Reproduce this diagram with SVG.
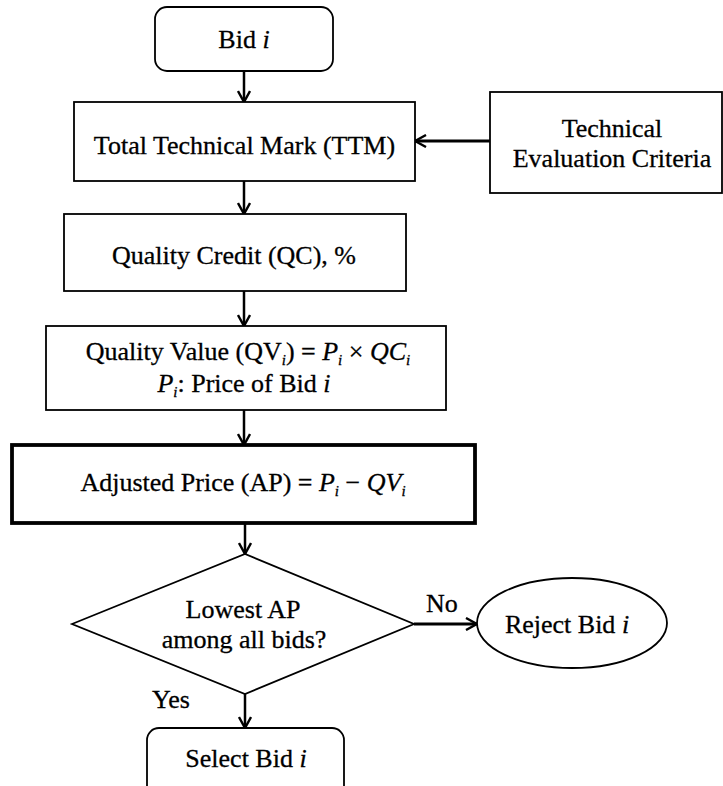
<svg xmlns="http://www.w3.org/2000/svg" width="723" height="786" viewBox="0 0 723 786">
<defs>
<style>
text{font-family:"Liberation Serif","Times New Roman",serif;font-size:26px;fill:#000;stroke:#000;stroke-width:0.3}
.c{text-anchor:middle}
.it{font-style:italic}
.sub{font-style:italic;font-size:15px}
.box{fill:#fff;stroke:#000;stroke-width:1.8}
.thick{fill:#fff;stroke:#000;stroke-width:3.8}
.con{fill:none;stroke:#000;stroke-width:2.5}
</style>
<marker id="arr" viewBox="0 0 14 14" refX="13" refY="7" markerWidth="14" markerHeight="14" markerUnits="userSpaceOnUse" orient="auto">
<path d="M2,1 L13,7 L2,13" fill="none" stroke="#000" stroke-width="2.4"/>
</marker>
</defs>
<rect width="723" height="786" fill="#fff"/>
<g id="connectors">
<line class="con" x1="244" y1="71" x2="244" y2="102" marker-end="url(#arr)"/>
<line class="con" x1="490" y1="141" x2="415" y2="141" marker-end="url(#arr)" style="stroke-width:3"/>
<line class="con" x1="244" y1="181" x2="244" y2="214" marker-end="url(#arr)"/>
<line class="con" x1="244" y1="291" x2="244" y2="326" marker-end="url(#arr)"/>
<line class="con" x1="244" y1="410" x2="244" y2="445" marker-end="url(#arr)"/>
<line class="con" x1="245" y1="523" x2="245" y2="554" marker-end="url(#arr)"/>
<line class="con" x1="414" y1="624" x2="477" y2="624" marker-end="url(#arr)" style="stroke-width:3"/>
<line class="con" x1="245" y1="694" x2="245" y2="728" marker-end="url(#arr)"/>
</g>
<g id="bid">
<rect class="box" x="155" y="7" width="178" height="64" rx="12"/>
<text class="c" x="244" y="48">Bid <tspan class="it">i</tspan></text>
</g>
<g id="ttm">
<rect class="box" x="74" y="102" width="341" height="79"/>
<text class="c" x="244.5" y="154">Total Technical Mark (TTM)</text>
</g>
<g id="tec">
<rect class="box" x="490" y="92" width="232" height="101"/>
<text class="c" x="612" y="137">Technical</text>
<text class="c" x="612" y="167">Evaluation Criteria</text>
</g>
<g id="qc">
<rect class="box" x="64" y="214" width="342" height="77"/>
<text class="c" x="234" y="264">Quality Credit (QC), %</text>
</g>
<g id="qv">
<rect class="box" x="46" y="326" width="400" height="84"/>
<text class="c" x="248" y="360">Quality Value (QV<tspan class="sub" dy="5">i</tspan><tspan dy="-5">) = </tspan><tspan class="it">P</tspan><tspan class="sub" dy="5">i</tspan><tspan dy="-5"> × </tspan><tspan class="it">QC</tspan><tspan class="sub" dy="5">i</tspan></text>
<text class="c" x="244" y="392"><tspan class="it">P</tspan><tspan class="sub" dy="5">i</tspan><tspan dy="-5">: Price of Bid </tspan><tspan class="it">i</tspan></text>
</g>
<g id="ap">
<rect class="thick" x="12" y="445" width="463" height="78"/>
<text class="c" x="243" y="491">Adjusted Price (AP) = <tspan class="it">P</tspan><tspan class="sub" dy="5">i</tspan><tspan dy="-5"> − </tspan><tspan class="it">QV</tspan><tspan class="sub" dy="5">i</tspan></text>
</g>
<g id="decision">
<polygon class="box" points="72,624 245,554 414,624 245,694"/>
<text class="c" x="243" y="618">Lowest AP</text>
<text class="c" x="244" y="648">among all bids?</text>
</g>
<g id="reject">
<ellipse class="box" cx="572" cy="623" rx="95" ry="45"/>
<text class="c" x="567" y="633">Reject Bid <tspan class="it">i</tspan></text>
</g>
<g id="select">
<rect class="box" x="147" y="728" width="197" height="80" rx="12"/>
<text class="c" x="246" y="767">Select Bid <tspan class="it">i</tspan></text>
</g>
<g id="labels">
<text x="426" y="612">No</text>
<text x="152" y="708">Yes</text>
</g>
</svg>
